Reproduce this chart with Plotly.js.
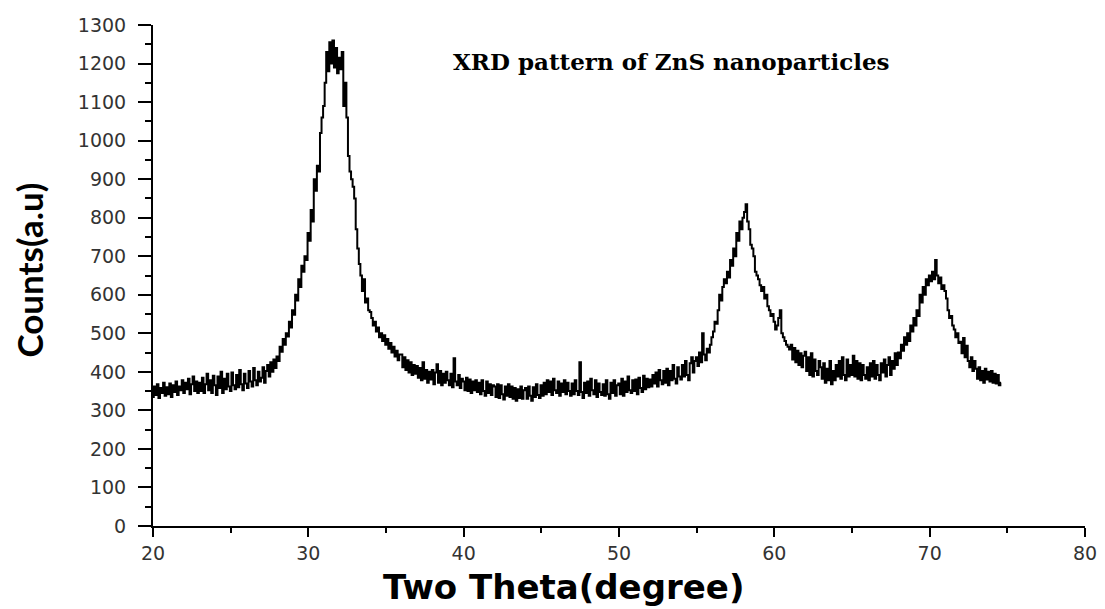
<!DOCTYPE html>
<html>
<head>
<meta charset="utf-8">
<script src="https://cdn.plot.ly/plotly-3.0.1.min.js"></script>
<style>html,body{margin:0;padding:0;background:#fff;}#chart{width:1105px;height:609px;}</style>
</head>
<body>
<div id="chart"></div>
<script>
// Sampling grid of the scan (degrees 2θ)
const startAngle = 20.0;
const angleStep = 0.1;

// Counts, one row per degree (20.0 … 74.6)
const counts20 = [335,362,340,368,332,358,345,372,338,360];
const counts21 = [342,370,335,365,348,375,340,362,352,378];
const counts22 = [345,372,355,382,342,368,388,350,375,345];
const counts23 = [372,350,385,345,368,395,352,378,345,390];
const counts24 = [365,340,388,358,400,345,382,355,395,362];
const counts25 = [350,398,365,355,392,360,405,368,352,395];
const counts26 = [370,358,402,375,362,410,378,365,400,375];
const counts27 = [385,412,372,402,418,388,425,400,432,410];
const counts28 = [440,428,465,452,485,470,500,492,530,515];
const counts29 = [560,548,600,585,640,620,675,660,700,690];
const counts30 = [760,740,820,790,900,870,935,920,1020,1060];
const counts31 = [1090,1150,1230,1180,1255,1200,1260,1190,1240,1175];
const counts32 = [1215,1185,1230,1090,1150,1060,960,920,900,880];
const counts33 = [850,770,720,680,650,610,640,580,590,560];
const counts34 = [555,540,520,530,505,515,490,500,480,495];
const counts35 = [470,485,460,475,450,465,440,455,430,445];
const counts36 = [445,412,438,405,430,398,425,392,418,395];
const counts37 = [415,385,410,378,425,382,405,372,400,380];
const counts38 = [405,368,398,420,372,402,365,395,372,400];
const counts39 = [378,365,395,360,435,375,365,392,358,382];
const counts40 = [375,352,385,350,380,345,375,352,378,348];
const counts41 = [372,342,378,350,338,375,345,368,340,365];
const counts42 = [362,335,368,332,365,342,328,362,338,368];
const counts43 = [335,362,330,358,325,355,332,362,330,352];
const counts44 = [358,330,362,338,325,360,335,368,340,332];
const counts45 = [365,338,372,342,378,348,375,340,382,352];
const counts46 = [345,375,338,370,348,378,342,372,350,338];
const counts47 = [370,342,378,350,340,425,348,332,372,345];
const counts48 = [375,338,382,352,342,378,335,370,348,340];
const counts49 = [368,338,378,342,330,372,345,378,338,365];
const counts50 = [370,342,382,338,375,348,388,352,345,378];
const counts51 = [350,380,342,385,358,348,390,355,382,360];
const counts52 = [380,362,392,370,398,362,405,378,368,402];
const counts53 = [372,408,365,402,378,418,382,370,412,388];
const counts54 = [380,418,388,428,392,378,422,438,398,428];
const counts55 = [438,415,450,425,500,445,430,460,450,470];
const counts56 = [490,505,530,525,560,600,585,620,640,630];
const counts57 = [660,645,690,675,720,700,760,740,790,770];
const counts58 = [800,815,835,790,770,730,720,700,660,650];
const counts59 = [640,625,610,620,590,600,570,560,545,550];
const counts60 = [530,510,520,540,560,500,490,480,470,465];
const counts61 = [458,470,432,462,425,455,418,448,412,442];
const counts62 = [452,402,438,392,448,388,432,402,392,428];
const counts63 = [412,382,422,372,408,378,428,368,402,378];
const counts64 = [418,388,428,382,438,392,378,432,388,418];
const counts65 = [392,442,388,428,382,422,378,418,392,382];
const counts66 = [412,378,422,388,428,382,418,392,378,422];
const counts67 = [398,432,388,418,438,392,428,408,448,418];
const counts68 = [450,435,470,455,490,470,500,480,520,505];
const counts69 = [540,520,560,545,600,580,620,600,640,625];
const counts70 = [650,635,660,640,690,650,630,645,615,625];
const counts71 = [610,590,560,540,545,520,510,490,500,475];
const counts72 = [478,448,488,438,468,428,412,438,402,428];
const counts73 = [408,382,412,378,402,372,408,380,400,375];
const counts74 = [402,372,395,370,392,365,372];

// Tick labels
const xTickVals = [20,30,40,50,60,70,80];
const yTickVals = [0,100,200,300,400,500,600,700,800,900,1000,1100,1200,1300];

const chartTitle = "XRD pattern of ZnS nanoparticles";
const xTitle = "Two Theta(degree)";
const yTitle = "Counts(a.u)";

const counts = [].concat(counts20,counts21,counts22,counts23,counts24,counts25,counts26,counts27,counts28,counts29,
  counts30,counts31,counts32,counts33,counts34,counts35,counts36,counts37,counts38,counts39,
  counts40,counts41,counts42,counts43,counts44,counts45,counts46,counts47,counts48,counts49,
  counts50,counts51,counts52,counts53,counts54,counts55,counts56,counts57,counts58,counts59,
  counts60,counts61,counts62,counts63,counts64,counts65,counts66,counts67,counts68,counts69,
  counts70,counts71,counts72,counts73,counts74);
const twoTheta = counts.map((_, i) => Math.round((startAngle + i * angleStep) * 10) / 10);

const trace = {
  x: twoTheta, y: counts, type: 'scatter', mode: 'lines',
  line: {color: '#000', width: 2, shape: 'hvh'},
  hoverinfo: 'x+y'
};

const tickFont = {family: 'DejaVu Sans, Arial, sans-serif', size: 19, color: '#333'};

const layout = {
  width: 1105, height: 609,
  margin: {l: 153, r: 20, t: 25, b: 83, pad: 0},
  paper_bgcolor: '#fff', plot_bgcolor: '#fff',
  showlegend: false,
  xaxis: {
    range: [20, 80], tickvals: xTickVals, ticktext: xTickVals.map(String),
    showgrid: false, zeroline: false, showline: true, linecolor: '#000', linewidth: 2,
    ticks: 'outside', ticklen: 9, tickwidth: 2, tickcolor: '#000',
    minor: {dtick: 5, ticks: 'outside', ticklen: 5, tickwidth: 2, tickcolor: '#000', showgrid: false},
    tickfont: tickFont, ticklabelstandoff: 0
  },
  yaxis: {
    range: [0, 1300], tickvals: yTickVals, ticktext: yTickVals.map(String),
    showgrid: false, zeroline: false, showline: true, linecolor: '#000', linewidth: 2,
    ticks: 'outside', ticklen: 13, tickwidth: 2, tickcolor: '#000',
    minor: {dtick: 50, ticks: 'outside', ticklen: 6, tickwidth: 2, tickcolor: '#000', showgrid: false},
    tickfont: tickFont, ticklabelstandoff: 8
  },
  annotations: [
    {text: '<b>' + chartTitle + '</b>', xref: 'paper', yref: 'paper', x: 0.556, y: 0.928,
     xanchor: 'center', yanchor: 'middle', showarrow: false,
     font: {family: 'DejaVu Serif, Liberation Serif, serif', size: 23, color: '#000'}},
    {text: '<b>' + xTitle + '</b>', xref: 'paper', yref: 'paper', x: 0.44, y: -0.122,
     xanchor: 'center', yanchor: 'middle', showarrow: false,
     font: {family: 'DejaVu Sans, sans-serif', size: 34, color: '#000'}},
    {text: '<b>' + yTitle + '</b>', xref: 'paper', yref: 'paper', x: -0.133, y: 0.51,
     xanchor: 'center', yanchor: 'middle', showarrow: false, textangle: -90,
     font: {family: 'Lato, sans-serif', size: 35, color: '#000'}}
  ]
};

Plotly.newPlot('chart', [trace], layout, {displayModeBar: false, staticPlot: true});
</script>
</body>
</html>
